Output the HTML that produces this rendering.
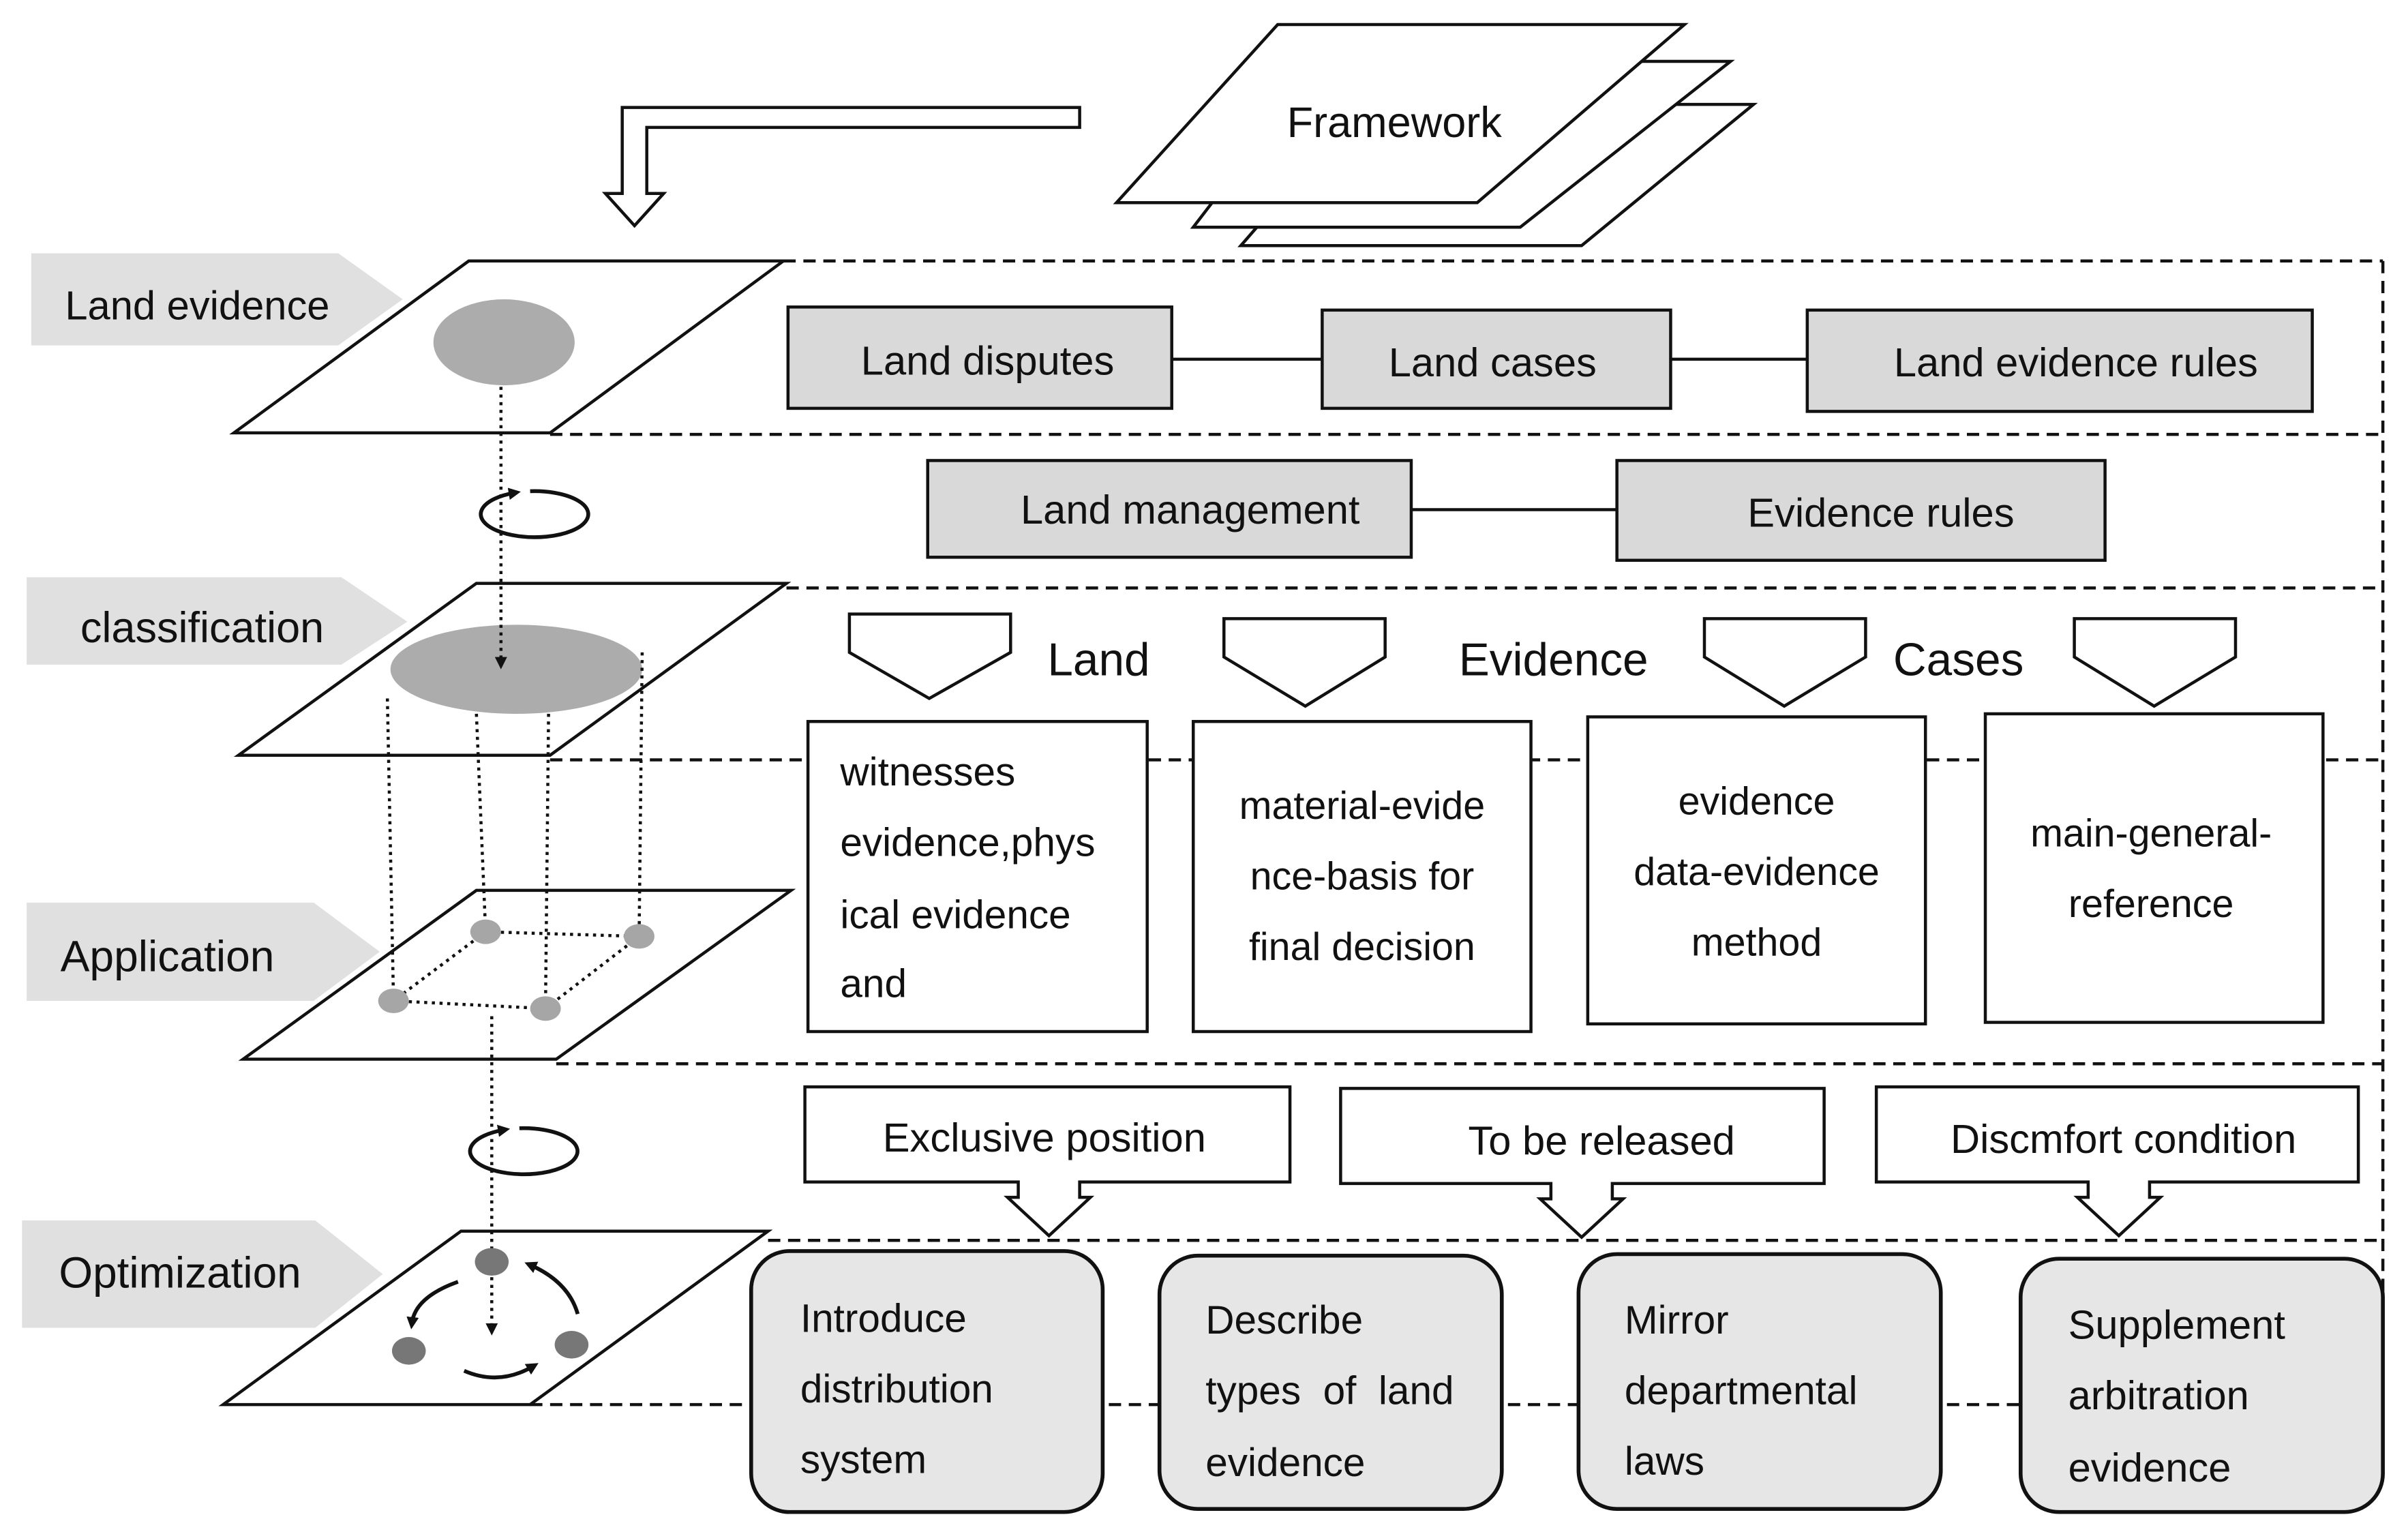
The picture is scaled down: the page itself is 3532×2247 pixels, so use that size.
<!DOCTYPE html>
<html><head><meta charset="utf-8"><style>
html,body{margin:0;padding:0;background:#fff;}
svg{display:block;}
text{font-family:"Liberation Sans",sans-serif;fill:#111;dominant-baseline:central;}
</style></head><body>
<svg width="3532" height="2247" viewBox="0 0 1568 998" xmlns="http://www.w3.org/2000/svg">
<defs>
<marker id="ah" markerWidth="8" markerHeight="8" refX="4" refY="4" orient="auto" markerUnits="userSpaceOnUse"><path d="M0,0 L8,4 L0,8 z" fill="#111"/></marker>
</defs>
<g stroke="#111" stroke-width="2" fill="#fff">
<polygon points="888,68 1142,68 1030,160 808,160"/>
<polygon points="860,40 1127,40 990,148 777,148"/>
<polygon points="832,16 1097,16 962,132 727,132"/>
<polygon points="703,70 405,70 405,126 394,126 413,147 432,126 421,126 421,83 703,83"/>
</g>
<text x="908" y="80" font-size="28" text-anchor="middle">Framework</text>

<g fill="#e0e0e0">
<polygon points="20,165 220,165 262,195 220,225 20,225"/>
<polygon points="17,376 222,376 265,405 222,433 17,433"/>
<polygon points="17,588 204,588 247,620 204,652 17,652"/>
<polygon points="14,795 205,795 249,830 205,865 14,865"/>
</g>
<text x="42" y="199" font-size="26.5">Land evidence</text>
<text x="52" y="409" font-size="28">classification</text>
<text x="39" y="623" font-size="28.5">Application</text>
<text x="38" y="829" font-size="28.4">Optimization</text>

<g stroke="#111" stroke-width="2" stroke-dasharray="8,5" fill="none">
<line x1="510" y1="170" x2="1552" y2="170"/>
<line x1="1552" y1="170" x2="1552" y2="915"/>
<line x1="358" y1="283" x2="1552" y2="283"/>
<line x1="512" y1="383" x2="1552" y2="383"/>
<line x1="358" y1="495" x2="1552" y2="495"/>
<line x1="362" y1="693" x2="1552" y2="693"/>
<line x1="500" y1="808" x2="1552" y2="808"/>
<line x1="345" y1="915" x2="1552" y2="915"/>
</g>

<g stroke="#111" stroke-width="2" fill="#fff">
<polygon points="152,282 358,282 510,170 305,170"/>
<polygon points="155,492 358,492 512,380 310,380"/>
<polygon points="158,690 362,690 515,580 310,580"/>
<polygon points="145,915 345,915 500,802 300,802"/>
</g>
<ellipse cx="328" cy="223" rx="46" ry="28" fill="#acacac"/>
<ellipse cx="336" cy="436" rx="82" ry="29" fill="#acacac"/>
<g stroke="#111" stroke-width="2" stroke-dasharray="2,3" fill="none">
<line x1="326" y1="252" x2="326" y2="432" marker-end="url(#ah)"/>
<line x1="252" y1="455" x2="256" y2="652"/>
<line x1="310" y1="465" x2="316" y2="607"/>
<line x1="357" y1="465" x2="355" y2="657"/>
<line x1="418" y1="425" x2="416" y2="610"/>
<line x1="316" y1="607" x2="416" y2="610"/>
<line x1="256" y1="652" x2="355" y2="657"/>
<line x1="316" y1="607" x2="256" y2="652"/>
<line x1="416" y1="610" x2="355" y2="657"/>
<line x1="320" y1="662" x2="320" y2="866" marker-end="url(#ah)"/>
</g>
<g fill="#a6a6a6">
<ellipse cx="316" cy="607" rx="10" ry="8"/><ellipse cx="416" cy="610" rx="10" ry="8"/>
<ellipse cx="256" cy="652" rx="10" ry="8"/><ellipse cx="355" cy="657" rx="10" ry="8"/>
</g>
<g fill="#777">
<ellipse cx="320" cy="822" rx="11" ry="9"/><ellipse cx="266" cy="880" rx="11" ry="9"/><ellipse cx="372" cy="876" rx="11" ry="9"/>
</g>
<g stroke="#111" stroke-width="2.5" fill="none">
<path d="M298,835 Q270,845 268,862" marker-end="url(#ah)"/>
<path d="M376,856 Q370,835 345,824" marker-end="url(#ah)"/>
<path d="M302,893 Q325,903 347,890" marker-end="url(#ah)"/>
<path d="M345,320 A35,15 0 1 1 335,321" marker-end="url(#ah)"/>
<path d="M338,735 A35,15 0 1 1 328,736" marker-end="url(#ah)"/>
</g>

<g stroke="#111" stroke-width="2" fill="#d9d9d9">
<line x1="763" y1="234" x2="861" y2="234"/>
<line x1="1088" y1="234" x2="1177" y2="234"/>
<line x1="919" y1="332" x2="1053" y2="332"/>
<rect x="513" y="200" width="250" height="66"/>
<rect x="861" y="202" width="227" height="64"/>
<rect x="1177" y="202" width="329" height="66"/>
<rect x="604" y="300" width="315" height="63"/>
<rect x="1053" y="300" width="318" height="65"/>
</g>
<g font-size="26.5" text-anchor="middle">
<text x="643" y="235">Land disputes</text>
<text x="972" y="236">Land cases</text>
<text x="1352" y="236">Land evidence rules</text>
<text x="775" y="332">Land management</text>
<text x="1225" y="334">Evidence rules</text>
</g>

<g stroke="#111" stroke-width="2" fill="#fff">
<polygon points="553,400 658,400 658,425 605,455 553,425"/>
<polygon points="797,403 902,403 902,428 850,460 797,428"/>
<polygon points="1110,403 1215,403 1215,428 1162,460 1110,428"/>
<polygon points="1351,403 1456,403 1456,428 1403,460 1351,428"/>
</g>
<g font-size="30">
<text x="682" y="430">Land</text>
<text x="950" y="430">Evidence</text>
<text x="1233" y="430">Cases</text>
</g>

<g stroke="#111" stroke-width="2" fill="#fff">
<rect x="526" y="470" width="221" height="202"/>
<rect x="777" y="470" width="220" height="202"/>
<rect x="1034" y="467" width="220" height="200"/>
<rect x="1293" y="465" width="220" height="201"/>
</g>
<g font-size="26">
<text x="547" y="503">witnesses</text><text x="547" y="549">evidence,phys</text>
<text x="547" y="596">ical evidence</text><text x="547" y="641">and</text>
</g>
<g font-size="25.5" text-anchor="middle">
<text x="887" y="525">material-evide</text><text x="887" y="571">nce-basis for</text><text x="887" y="617">final decision</text>
<text x="1144" y="522">evidence</text><text x="1144" y="568">data-evidence</text><text x="1144" y="614">method</text>
<text x="1401" y="543">main-general-</text><text x="1401" y="589">reference</text>
</g>

<g stroke="#111" stroke-width="2" fill="#fff">
<polygon points="524,708 840,708 840,770 703,770 703,780 710,780 683,805 656,780 663,780 663,770 524,770"/>
<polygon points="873,709 1188,709 1188,771 1050,771 1050,781 1057,781 1030,806 1003,781 1010,781 1010,771 873,771"/>
<polygon points="1222,708 1536,708 1536,770 1400,770 1400,780 1407,780 1380,805 1353,780 1360,780 1360,770 1222,770"/>
</g>
<g font-size="26.5" text-anchor="middle">
<text x="680" y="741">Exclusive position</text>
<text x="1043" y="743">To be released</text>
<text x="1383" y="742">Discmfort condition</text>
</g>

<g stroke="#111" stroke-width="2.5" fill="#e6e6e6">
<rect x="489" y="815" width="229" height="170" rx="25"/>
<rect x="755" y="818" width="223" height="165" rx="25"/>
<rect x="1028" y="817" width="236" height="166" rx="25"/>
<rect x="1316" y="820" width="236" height="165" rx="25"/>
</g>
<g font-size="26">
<text x="521" y="859">Introduce</text><text x="521" y="905">distribution</text><text x="521" y="951">system</text>
<text x="785" y="860">Describe</text><text x="785" y="906" xml:space="preserve">types  of  land</text><text x="785" y="953">evidence</text>
<text x="1058" y="860">Mirror</text><text x="1058" y="906">departmental</text><text x="1058" y="952">laws</text>
</g>
<g font-size="26.5">
<text x="1347" y="863">Supplement</text><text x="1347" y="909">arbitration</text><text x="1347" y="956">evidence</text>
</g>
</svg>
</body></html>
